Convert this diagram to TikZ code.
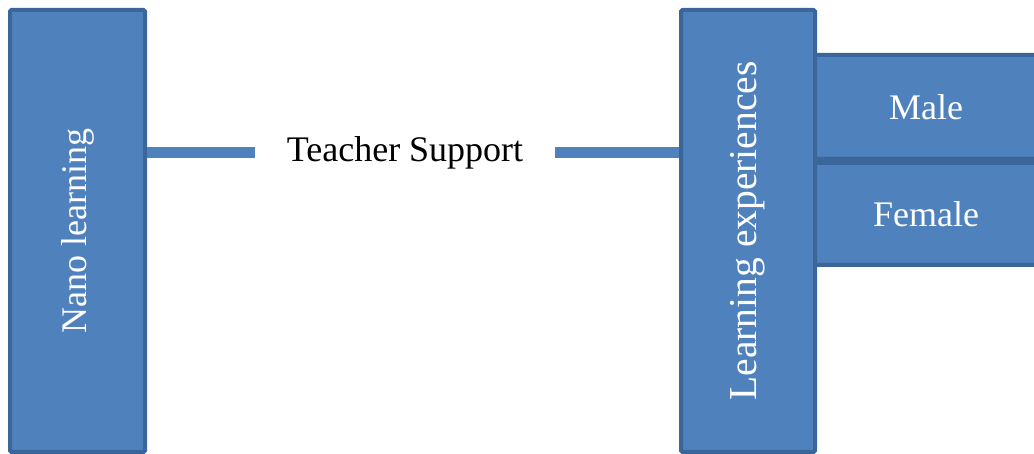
\documentclass[tikz,border=0pt]{standalone}
\usepackage{fontspec}
\setmainfont{Liberation Serif}
\definecolor{boxfill}{HTML}{4F81BD}
\definecolor{boxedge}{HTML}{3A6699}
\begin{document}
\begin{tikzpicture}[x=1pt,y=1pt,
  bluebox/.style={draw=boxedge, fill=boxfill, line width=4pt, rounded corners=1.5pt, inner sep=0pt, text=white},
  link/.style={draw=boxfill, line width=11pt}]
\useasboundingbox (0,0) rectangle (1034,454);
\begin{scope}
\clip (0,0) rectangle (1034,454);
\node[bluebox, minimum width=226pt, minimum height=104pt, font=\fontsize{36}{40}\selectfont] (male) at (926,347) {Male};
\node[bluebox, minimum width=226pt, minimum height=102pt, font=\fontsize{36}{40}\selectfont] (female) at (926,240) {Female};
\node[bluebox, minimum width=135pt, minimum height=442pt] (nano) at (77.5,223) {};
\node[rotate=90, text=white, font=\fontsize{36}{40}\selectfont] (nanotxt) at (nano.center) {Nano learning};
\node[bluebox, minimum width=134pt, minimum height=442pt] (learn) at (748,223) {};
\node[rotate=90, text=white, font=\fontsize{39.5}{44}\selectfont] (learntxt) at (learn.center) {Learning experiences};
\end{scope}
\node[font=\fontsize{36}{40}\selectfont, inner xsep=32pt] (ts) at (405,301) {Teacher Support};
\draw[link] (nano.east |- ts.west) -- (ts.west);
\draw[link] (ts.east) -- (learn.west |- ts.east);
\end{tikzpicture}
\end{document}
